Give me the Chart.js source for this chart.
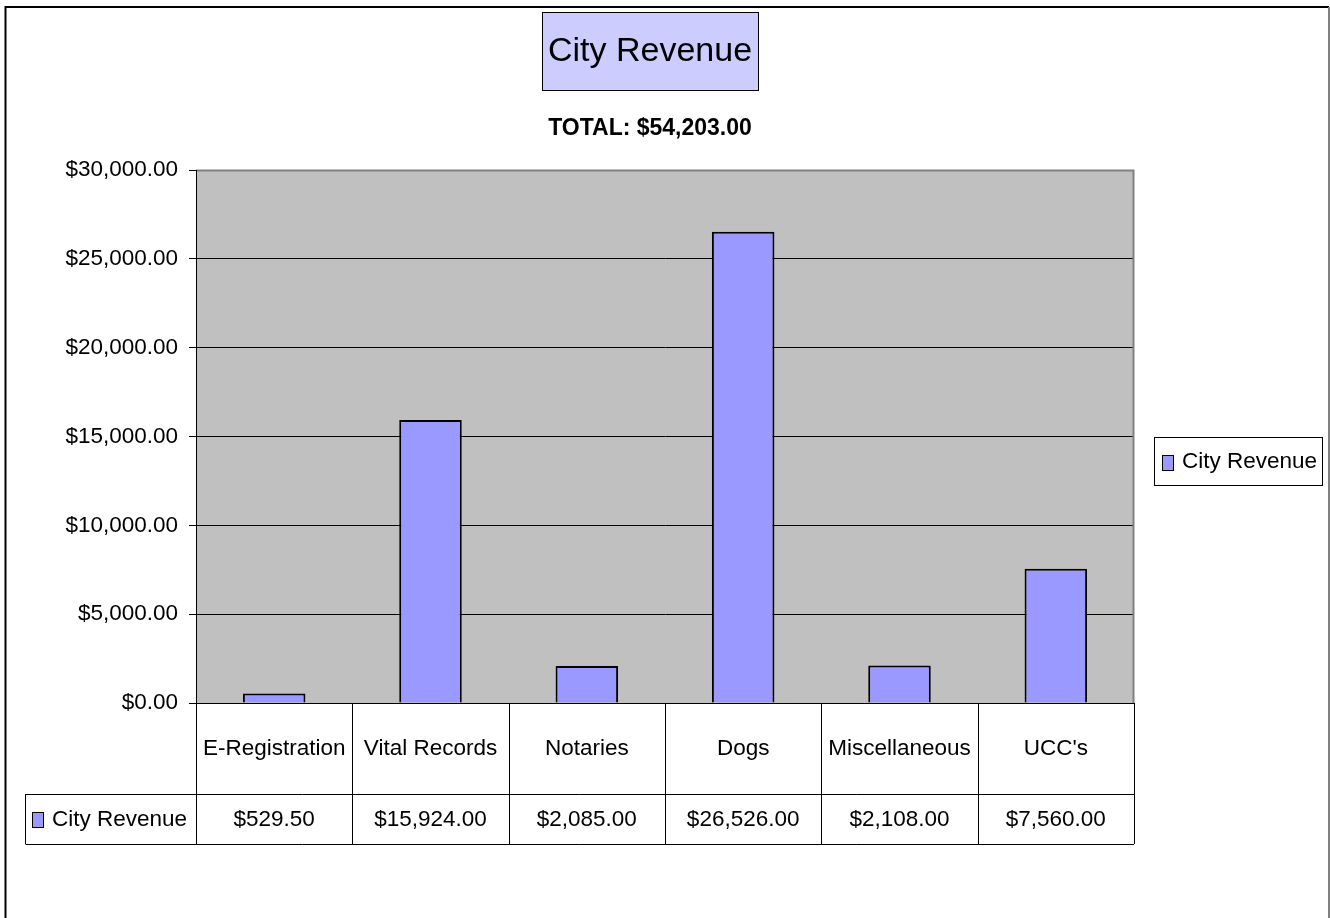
<!DOCTYPE html>
<html>
<head>
<meta charset="utf-8">
<script src="https://cdn.jsdelivr.net/npm/chart.js@4/dist/chart.umd.min.js"></script>
<style>
  html, body { margin: 0; padding: 0; background: #fff; }
  #wrap { width: 1330px; height: 918px; position: relative; }
</style>
</head>
<body>
<div id="wrap"><canvas id="c" width="1330" height="918"></canvas></div>
<script>
const categories = ["E-Registration", "Vital Records", "Notaries", "Dogs", "Miscellaneous", "UCC's"];
const revenue = [529.50, 15924.00, 2085.00, 26526.00, 2108.00, 7560.00];
const seriesName = "City Revenue";
const chartTitle = "City Revenue";
const subtitleText = "TOTAL: $54,203.00";
const yTicks = [0, 5000, 10000, 15000, 20000, 25000, 30000];

const FONT = "'Liberation Sans', Arial, sans-serif";
const FS = 22.5;
const BAR_COLOR = "#9999FF";

function money(v) {
  return "$" + v.toLocaleString("en-US", { minimumFractionDigits: 2, maximumFractionDigits: 2 });
}

const decor = {
  id: "decor",
  beforeDraw(chart) {
    const ctx = chart.ctx;
    const a = chart.chartArea;
    ctx.save();
    ctx.fillStyle = "#ffffff";
    ctx.fillRect(0, 0, chart.width, chart.height);
    ctx.fillStyle = "#C0C0C0";
    ctx.fillRect(a.left, a.top, a.right - a.left, a.bottom - a.top);
    ctx.restore();
  },
  afterDatasetsDraw(chart) {
    const ctx = chart.ctx;
    const a = chart.chartArea;
    ctx.save();
    ctx.strokeStyle = "#808080";
    ctx.lineWidth = 2;
    ctx.beginPath();
    ctx.moveTo(a.left, a.top + 0.5);
    ctx.lineTo(a.right - 0.5, a.top + 0.5);
    ctx.lineTo(a.right - 0.5, a.bottom);
    ctx.stroke();
    ctx.strokeStyle = "#000";
    ctx.lineWidth = 1;
    ctx.beginPath();
    ctx.moveTo(a.left + 0.5, a.top);
    ctx.lineTo(a.left + 0.5, a.bottom);
    ctx.stroke();
    ctx.restore();
  },
  afterDraw(chart) {
    const ctx = chart.ctx;
    const a = chart.chartArea;
    const xs = chart.scales.x;
    const n = categories.length;
    const colW = (a.right - a.left) / n;
    const row1Top = a.bottom, row1Bot = 794, row2Bot = 844;
    const leftBox = 25;
    ctx.save();

    // Outer chart border
    ctx.strokeStyle = "#000";
    ctx.lineWidth = 2;
    ctx.beginPath();
    ctx.moveTo(5.5, 930);
    ctx.lineTo(5.5, 7);
    ctx.lineTo(1329, 7);
    ctx.stroke();
    ctx.strokeStyle = "#808080";
    ctx.beginPath();
    ctx.moveTo(1329, 7);
    ctx.lineTo(1329, 930);
    ctx.stroke();

    // Title box
    const cx = 650;
    ctx.fillStyle = "#CCCCFF";
    ctx.fillRect(542.5, 12.5, 216, 78);
    ctx.strokeStyle = "#000";
    ctx.lineWidth = 1;
    ctx.strokeRect(542.5, 12.5, 216, 78);
    ctx.fillStyle = "#000";
    ctx.textAlign = "center";
    ctx.textBaseline = "middle";
    ctx.font = "34px " + FONT;
    ctx.fillText(chartTitle, cx, 52);

    // Subtitle
    ctx.font = "bold 23px " + FONT;
    ctx.fillText(subtitleText, cx, 129);

    // Data table lines
    ctx.strokeStyle = "#000";
    ctx.lineWidth = 1;
    ctx.beginPath();
    for (let i = 0; i <= n; i++) {
      const x = Math.round(a.left + i * colW) + 0.5;
      ctx.moveTo(x, row1Top);
      ctx.lineTo(x, row2Bot);
    }
    ctx.moveTo(leftBox + 0.5, row1Bot + 0.5);
    ctx.lineTo(a.right, row1Bot + 0.5);
    ctx.moveTo(leftBox + 0.5, row2Bot + 0.5);
    ctx.lineTo(a.right, row2Bot + 0.5);
    ctx.moveTo(leftBox + 0.5, row1Bot);
    ctx.lineTo(leftBox + 0.5, row2Bot);
    ctx.stroke();

    // Row header: legend key + series name
    ctx.fillStyle = BAR_COLOR;
    ctx.fillRect(32.5, 812.5, 11, 15);
    ctx.strokeRect(32.5, 812.5, 11, 15);
    ctx.fillStyle = "#000";
    ctx.font = FS + "px " + FONT;
    ctx.textAlign = "left";
    ctx.fillText(seriesName, 52, 820);

    // Values
    ctx.textAlign = "center";
    for (let i = 0; i < n; i++) {
      ctx.fillText(money(revenue[i]), xs.getPixelForValue(i), 820);
    }

    // Legend
    ctx.fillStyle = "#fff";
    ctx.fillRect(1154.5, 437.5, 168, 48);
    ctx.strokeStyle = "#000";
    ctx.strokeRect(1154.5, 437.5, 168, 48);
    ctx.fillStyle = BAR_COLOR;
    ctx.fillRect(1162.5, 455.5, 11, 15);
    ctx.strokeRect(1162.5, 455.5, 11, 15);
    ctx.fillStyle = "#000";
    ctx.textAlign = "left";
    ctx.fillText(seriesName, 1182, 462);
    ctx.restore();
  }
};

new Chart(document.getElementById("c"), {
  type: "bar",
  data: {
    labels: categories,
    datasets: [{
      label: seriesName,
      data: revenue,
      backgroundColor: BAR_COLOR,
      borderColor: "#000",
      borderWidth: 2,
      borderSkipped: "bottom",
      categoryPercentage: 1.0,
      barPercentage: 0.4
    }]
  },
  options: {
    responsive: false,
    animation: false,
    devicePixelRatio: 1,
    layout: { padding: { top: 170, right: 196, left: 0, bottom: 0 } },
    plugins: { legend: { display: false }, title: { display: false }, tooltip: { enabled: false } },
    scales: {
      x: {
        type: "category",
        grid: { display: false, drawTicks: false },
        border: { display: false },
        ticks: { color: "#000", font: { family: FONT, size: FS }, padding: 32, maxRotation: 0, autoSkip: false },
        afterFit(scale) { scale.height = 215; }
      },
      y: {
        min: 0,
        max: 30000,
        afterBuildTicks(scale) { scale.ticks = yTicks.map(v => ({ value: v })); },
        afterFit(scale) { scale.width = 196; },
        grid: {
          color: (c) => c.index === yTicks.length - 1 ? "#808080" : "#000",
          tickColor: "#000",
          lineWidth: 1,
          tickLength: 7
        },
        border: { display: true, color: "#000", width: 1 },
        ticks: {
          color: "#000",
          padding: 11,
          font: { family: FONT, size: FS },
          callback: (v) => money(v)
        }
      }
    }
  },
  plugins: [decor]
});
</script>
</body>
</html>
